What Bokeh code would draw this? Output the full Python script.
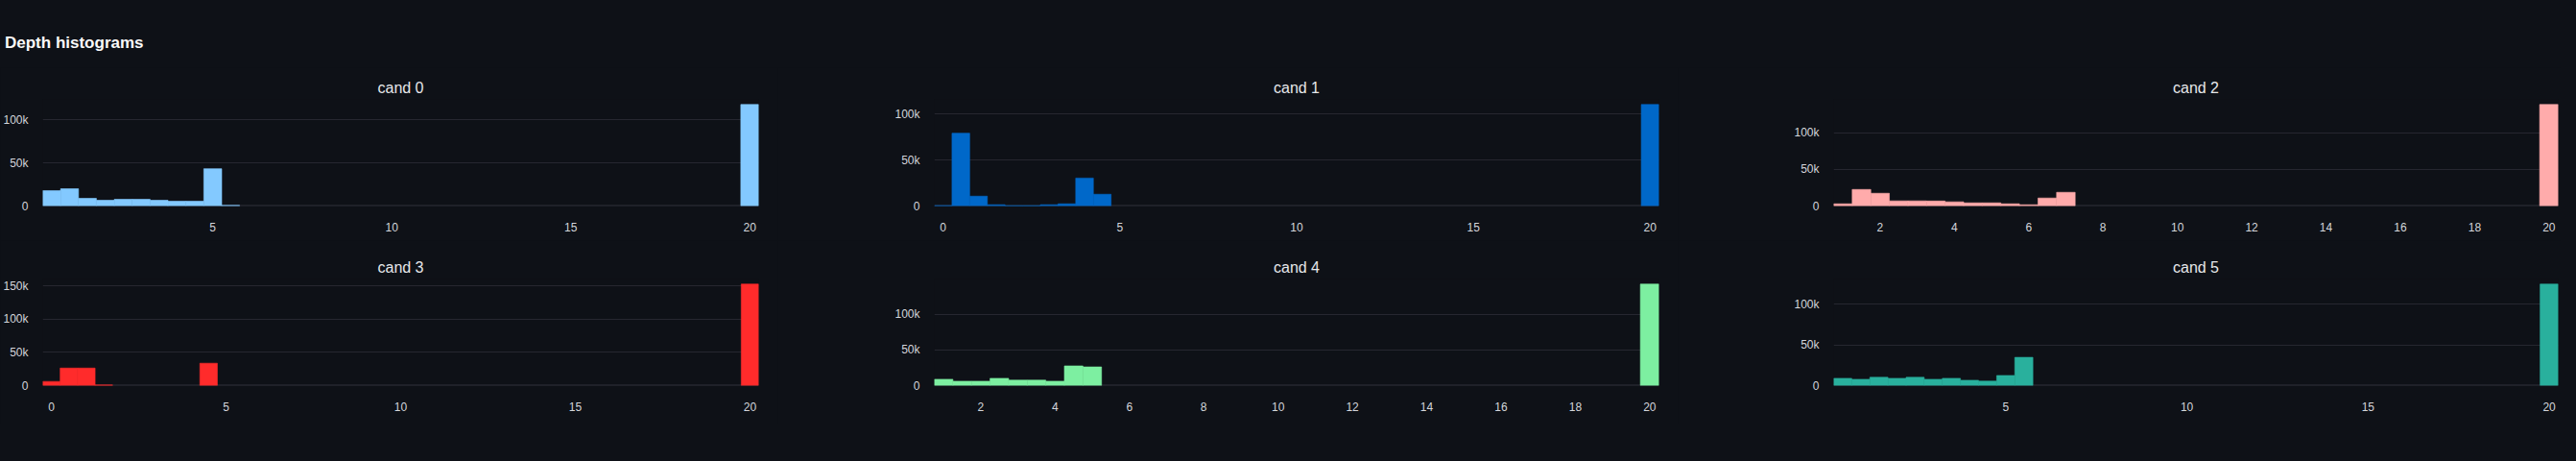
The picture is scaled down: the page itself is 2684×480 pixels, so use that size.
from bokeh.embed import file_html
from bokeh.resources import INLINE
from bokeh.plotting import figure
from bokeh.layouts import column, row
from bokeh.models import (Div, Range1d, FixedTicker, NumeralTickFormatter, Span,
                          GlobalInlineStyleSheet)

# depth histograms: bin centres (bin width 0.5) and counts per candidate
names = ["cand 0", "cand 1", "cand 2", "cand 3", "cand 4", "cand 5"]
colors = ["#83c9ff", "#0068c9", "#ffabab", "#ff2b2b", "#7defa1", "#29b09d"]

cand0_bins = [0.5, 1.0, 1.5, 2.0, 2.5, 3.0, 3.5, 4.0, 4.5, 5.0, 5.5, 20.0]
cand0_counts = [17800, 20000, 8900, 6700, 7800, 7800, 6700, 5600, 5600, 43300, 800, 117800]

cand1_bins = [0.0, 0.5, 1.0, 1.5, 2.0, 2.5, 3.0, 3.5, 4.0, 4.5, 20.0]
cand1_counts = [500, 79200, 10700, 1400, 400, 400, 1400, 2400, 30400, 12800, 110400]

cand2_bins = [1.0, 1.5, 2.0, 2.5, 3.0, 3.5, 4.0, 4.5, 5.0, 5.5, 6.0, 6.5, 7.0, 20.0]
cand2_counts = [3000, 22600, 17400, 7000, 7000, 6800, 5700, 4300, 4300, 3000, 1700, 10900, 18700, 138700]

cand3_bins = [0.0, 0.5, 1.0, 1.5, 4.5, 20.0]
cand3_counts = [6300, 26400, 26400, 1000, 33700, 152900]

cand4_bins = [1.0, 1.5, 2.0, 2.5, 3.0, 3.5, 4.0, 4.5, 5.0, 20.0]
cand4_counts = [8900, 6200, 6200, 10200, 7600, 7600, 6200, 27600, 26200, 142200]

cand5_bins = [0.5, 1.0, 1.5, 2.0, 2.5, 3.0, 3.5, 4.0, 4.5, 5.0, 5.5, 20.0]
cand5_counts = [9000, 7800, 10200, 9000, 10200, 7800, 9000, 6600, 5500, 12500, 34800, 125000]

ticks_by5 = [0, 5, 10, 15, 20]
ticks_by2 = [2, 4, 6, 8, 10, 12, 14, 16, 18, 20]
x_ticks = [ticks_by5, ticks_by5, ticks_by2, ticks_by5, ticks_by2, ticks_by5]
y_ticks = [0, 50000, 100000, 150000]

all_bins = [cand0_bins, cand1_bins, cand2_bins, cand3_bins, cand4_bins, cand5_bins]
all_counts = [cand0_counts, cand1_counts, cand2_counts, cand3_counts, cand4_counts, cand5_counts]

BG = "#0e1117"
GRID = "#262730"
ZERO = "#31333d"
FONT = "Liberation Sans"
BIN_W = 0.5

# borders per column (left, frame, right) and per row (top, frame, bottom)
col_borders = [(35, 755, 20), (163, 755, 20), (162, 755, 3)]
row_borders = [(33, 111, 36), (40, 111, 40)]


def make_panel(i):
    left, fw, right = col_borders[i % 3]
    top, fh, bottom = row_borders[i // 3]
    bins = all_bins[i]
    counts = all_counts[i]

    p = figure(width=left + fw + right, height=top + fh + bottom,
               x_range=Range1d(min(bins) - BIN_W / 2, max(bins) + BIN_W / 2),
               y_range=Range1d(0, max(counts) * 1.05),
               output_backend="svg", toolbar_location=None,
               min_border_left=left, min_border_right=right,
               min_border_top=top, min_border_bottom=bottom)
    p.background_fill_color = BG
    p.border_fill_color = BG
    p.outline_line_color = None

    p.title.text = names[i]
    p.title.align = "center"
    p.title.text_font = FONT
    p.title.text_font_size = "16px"
    p.title.text_font_style = "normal"
    p.title.text_color = "#e6e7ea"
    p.title.standoff = 7

    p.xgrid.visible = False
    p.ygrid.grid_line_color = GRID
    p.ygrid.grid_line_width = 1

    # zero line along the bottom of the bars
    zero = Span(location=0, dimension="width", line_color=ZERO, line_width=2,
                level="underlay")
    p.add_layout(zero)

    p.vbar(x=bins, top=counts, width=BIN_W, fill_color=colors[i],
           line_color=colors[i], line_width=0.6)

    p.xaxis.ticker = FixedTicker(ticks=x_ticks[i])
    p.yaxis.ticker = FixedTicker(ticks=y_ticks)
    p.yaxis.formatter = NumeralTickFormatter(format="0a")
    for ax in (p.xaxis, p.yaxis):
        ax.axis_line_color = None
        ax.major_tick_line_color = None
        ax.minor_tick_line_color = None
        ax.major_label_text_font = FONT
        ax.major_label_text_font_size = "12px"
        ax.major_label_text_color = "#d4d6db"
    p.xaxis.major_label_standoff = 11
    p.yaxis.major_label_standoff = 9
    return p


panels = [make_panel(i) for i in range(6)]

title = Div(text='<div style="padding-top:28px;font-family:\'Liberation Sans\';'
                 'font-size:17px;font-weight:bold;color:#fafafa;">Depth histograms</div>',
            width=2668, height=60)

p = column(title, row(panels[0], panels[1], panels[2]),
           row(panels[3], panels[4], panels[5]))
p.stylesheets = [GlobalInlineStyleSheet(css="body { background-color: %s; }" % BG)]

open("out.html", "w").write(file_html(p, INLINE))
